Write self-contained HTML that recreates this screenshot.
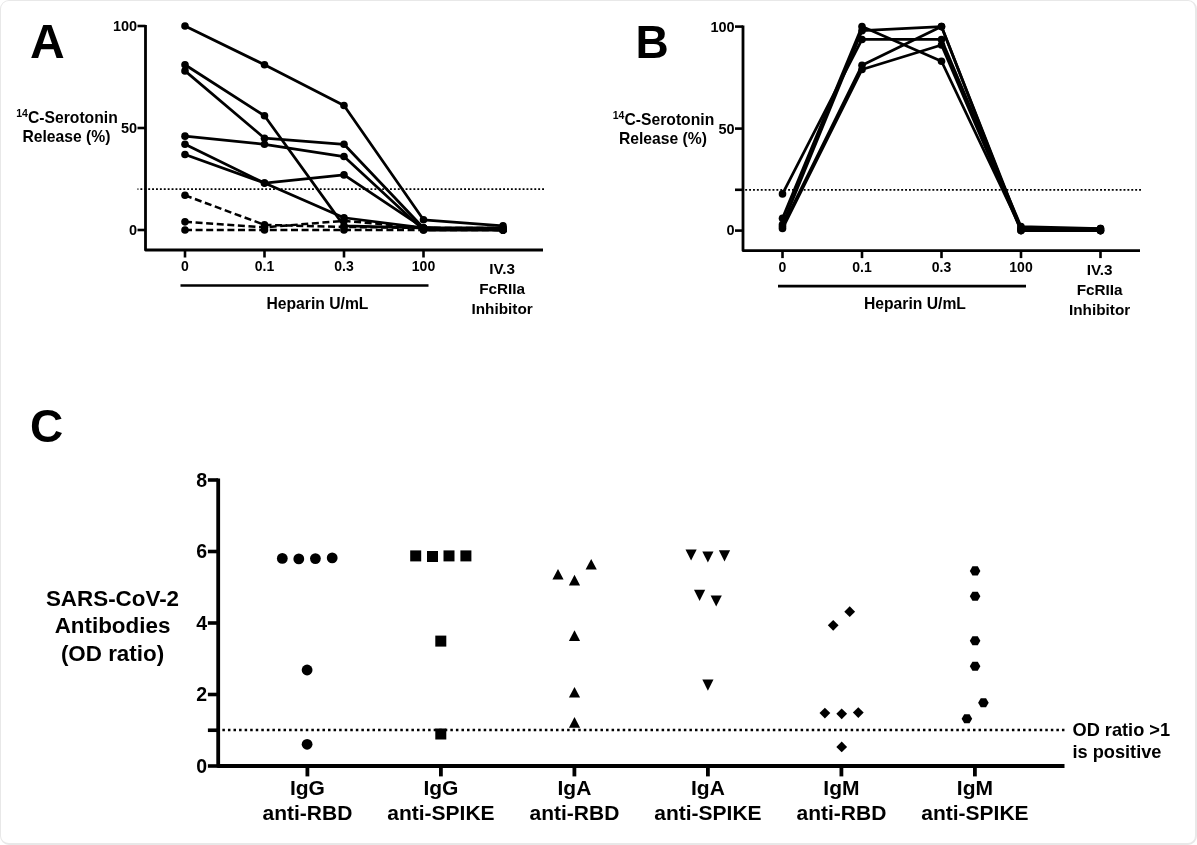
<!DOCTYPE html>
<html lang="en"><head><meta charset="utf-8"><title>Figure</title>
<style>
html,body{margin:0;padding:0;background:#fff;}
body{width:1197px;height:845px;overflow:hidden;position:relative;font-family:"Liberation Sans",sans-serif;}
.frame{position:absolute;left:0;top:0;width:1197px;height:845px;box-sizing:border-box;border:solid #e8e8e8;border-width:1px 2px 2px 1px;border-radius:9px;background:#fff;}
.bg{position:absolute;left:0;top:0;width:1197px;height:845px;background:#fff;}
svg{position:absolute;left:0;top:0;}
text{font-family:"Liberation Sans",sans-serif;font-weight:bold;fill:#000;}
</style></head><body>
<div class="bg"></div>
<div class="frame"></div>
<svg width="1197" height="845" viewBox="0 0 1197 845">

<g id="panelA">
<text x="30" y="57.5" font-size="48">A</text>
<path d="M145.5 24.9 V250 H543" stroke="#000" stroke-width="2.8" fill="none" stroke-linejoin="round"/>
<path d="M137.5 230 H145.5" stroke="#000" stroke-width="2.6"/>
<text x="137.2" y="234.5" font-size="14.5" text-anchor="end">0</text>
<path d="M137.5 128 H145.5" stroke="#000" stroke-width="2.6"/>
<text x="137.2" y="133.2" font-size="14.5" text-anchor="end">50</text>
<path d="M137.5 26 H145.5" stroke="#000" stroke-width="2.6"/>
<text x="137.2" y="31.4" font-size="14.5" text-anchor="end">100</text>
<path d="M544 189.2 H137.5" stroke="#000" stroke-width="1.7" stroke-dasharray="1.9 2"/>
<path d="M185 250 V257.5" stroke="#000" stroke-width="2.6"/>
<text x="185" y="271.2" font-size="14" text-anchor="middle">0</text>
<path d="M264.5 250 V257.5" stroke="#000" stroke-width="2.6"/>
<text x="264.5" y="271.2" font-size="14" text-anchor="middle">0.1</text>
<path d="M344 250 V257.5" stroke="#000" stroke-width="2.6"/>
<text x="344" y="271.2" font-size="14" text-anchor="middle">0.3</text>
<path d="M423.5 250 V257.5" stroke="#000" stroke-width="2.6"/>
<text x="423.5" y="271.2" font-size="14" text-anchor="middle">100</text>
<text x="502.1" y="274.2" font-size="15.3" text-anchor="middle">IV.3</text>
<text x="502.1" y="294.2" font-size="15.3" text-anchor="middle">FcRIIa</text>
<text x="502.1" y="314.2" font-size="15.3" text-anchor="middle">Inhibitor</text>
<path d="M180.5 285.5 H428.5" stroke="#000" stroke-width="2.6"/>
<text x="317.45" y="308.7" font-size="15.7" text-anchor="middle">Heparin U/mL</text>
<text x="67" y="122.6" font-size="15.7" text-anchor="middle"><tspan font-size="10.5" dy="-5.5">14</tspan><tspan dy="5.5">C-Serotonin</tspan></text>
<text x="66.5" y="141.8" font-size="15.7" text-anchor="middle">Release (%)</text>
<polyline points="185,195.32 264.5,224.9 344,226.94 423.5,227.96 503,227.96" fill="none" stroke="#000" stroke-width="2.5" stroke-dasharray="7 3.6"/>
<polyline points="185,221.84 264.5,227.35 344,220.82 423.5,227.96 503,230" fill="none" stroke="#000" stroke-width="2.5" stroke-dasharray="7 3.6"/>
<polyline points="185,230 264.5,230 344,230 423.5,230 503,230" fill="none" stroke="#000" stroke-width="2.5" stroke-dasharray="7 3.6"/>
<polyline points="185,26 264.5,64.76 344,105.56 423.5,219.8 503,225.92" fill="none" stroke="#000" stroke-width="2.75" stroke-linejoin="round"/>
<polyline points="185,64.76 264.5,115.76 344,225.92 423.5,227.96 503,230" fill="none" stroke="#000" stroke-width="2.75" stroke-linejoin="round"/>
<polyline points="185,70.88 264.5,138.2 344,144.32 423.5,227.96 503,230" fill="none" stroke="#000" stroke-width="2.75" stroke-linejoin="round"/>
<polyline points="185,136.16 264.5,144.32 344,156.56 423.5,230 503,230" fill="none" stroke="#000" stroke-width="2.75" stroke-linejoin="round"/>
<polyline points="185,144.32 264.5,183.08 344,217.76 423.5,227.96 503,227.96" fill="none" stroke="#000" stroke-width="2.75" stroke-linejoin="round"/>
<polyline points="185,154.52 264.5,183.08 344,174.92 423.5,227.96 503,230" fill="none" stroke="#000" stroke-width="2.75" stroke-linejoin="round"/>
<circle cx="185" cy="26" r="3.8"/>
<circle cx="264.5" cy="64.76" r="3.8"/>
<circle cx="344" cy="105.56" r="3.8"/>
<circle cx="423.5" cy="219.8" r="3.8"/>
<circle cx="503" cy="225.92" r="3.8"/>
<circle cx="185" cy="64.76" r="3.8"/>
<circle cx="264.5" cy="115.76" r="3.8"/>
<circle cx="344" cy="225.92" r="3.8"/>
<circle cx="423.5" cy="227.96" r="3.8"/>
<circle cx="503" cy="230" r="3.8"/>
<circle cx="185" cy="70.88" r="3.8"/>
<circle cx="264.5" cy="138.2" r="3.8"/>
<circle cx="344" cy="144.32" r="3.8"/>
<circle cx="423.5" cy="227.96" r="3.8"/>
<circle cx="503" cy="230" r="3.8"/>
<circle cx="185" cy="136.16" r="3.8"/>
<circle cx="264.5" cy="144.32" r="3.8"/>
<circle cx="344" cy="156.56" r="3.8"/>
<circle cx="423.5" cy="230" r="3.8"/>
<circle cx="503" cy="230" r="3.8"/>
<circle cx="185" cy="144.32" r="3.8"/>
<circle cx="264.5" cy="183.08" r="3.8"/>
<circle cx="344" cy="217.76" r="3.8"/>
<circle cx="423.5" cy="227.96" r="3.8"/>
<circle cx="503" cy="227.96" r="3.8"/>
<circle cx="185" cy="154.52" r="3.8"/>
<circle cx="264.5" cy="183.08" r="3.8"/>
<circle cx="344" cy="174.92" r="3.8"/>
<circle cx="423.5" cy="227.96" r="3.8"/>
<circle cx="503" cy="230" r="3.8"/>
<circle cx="185" cy="195.32" r="3.8"/>
<circle cx="264.5" cy="224.9" r="3.8"/>
<circle cx="344" cy="226.94" r="3.8"/>
<circle cx="423.5" cy="227.96" r="3.8"/>
<circle cx="503" cy="227.96" r="3.8"/>
<circle cx="185" cy="221.84" r="3.8"/>
<circle cx="264.5" cy="227.35" r="3.8"/>
<circle cx="344" cy="220.82" r="3.8"/>
<circle cx="423.5" cy="227.96" r="3.8"/>
<circle cx="503" cy="230" r="3.8"/>
<circle cx="185" cy="230" r="3.8"/>
<circle cx="264.5" cy="230" r="3.8"/>
<circle cx="344" cy="230" r="3.8"/>
<circle cx="423.5" cy="230" r="3.8"/>
<circle cx="503" cy="230" r="3.8"/>
</g>
<g id="panelB" transform="translate(0,0.6)">
<text x="635.4" y="57.5" font-size="46">B</text>
<path d="M743 24.9 V250 H1140" stroke="#000" stroke-width="2.8" fill="none" stroke-linejoin="round"/>
<path d="M735 230 H743" stroke="#000" stroke-width="2.6"/>
<text x="734.7" y="234.5" font-size="14.5" text-anchor="end">0</text>
<path d="M735 128 H743" stroke="#000" stroke-width="2.6"/>
<text x="734.7" y="133.2" font-size="14.5" text-anchor="end">50</text>
<path d="M735 26 H743" stroke="#000" stroke-width="2.6"/>
<text x="734.7" y="31.4" font-size="14.5" text-anchor="end">100</text>
<path d="M735 189.2 H743" stroke="#000" stroke-width="2.6"/>
<path d="M1141 189.2 H745" stroke="#000" stroke-width="1.7" stroke-dasharray="1.9 2"/>
<path d="M782.5 250 V257.5" stroke="#000" stroke-width="2.6"/>
<text x="782.5" y="271.2" font-size="14" text-anchor="middle">0</text>
<path d="M862 250 V257.5" stroke="#000" stroke-width="2.6"/>
<text x="862" y="271.2" font-size="14" text-anchor="middle">0.1</text>
<path d="M941.5 250 V257.5" stroke="#000" stroke-width="2.6"/>
<text x="941.5" y="271.2" font-size="14" text-anchor="middle">0.3</text>
<path d="M1021 250 V257.5" stroke="#000" stroke-width="2.6"/>
<text x="1021" y="271.2" font-size="14" text-anchor="middle">100</text>
<path d="M1100.5 250 V257.5" stroke="#000" stroke-width="2.6"/>
<text x="1099.6" y="274.2" font-size="15.3" text-anchor="middle">IV.3</text>
<text x="1099.6" y="294.2" font-size="15.3" text-anchor="middle">FcRIIa</text>
<text x="1099.6" y="314.2" font-size="15.3" text-anchor="middle">Inhibitor</text>
<path d="M778 285.5 H1026" stroke="#000" stroke-width="2.6"/>
<text x="914.95" y="308.7" font-size="15.7" text-anchor="middle">Heparin U/mL</text>
<text x="663.5" y="124" font-size="15.7" text-anchor="middle"><tspan font-size="10.5" dy="-5.5">14</tspan><tspan dy="5.5">C-Serotonin</tspan></text>
<text x="663" y="143.2" font-size="15.7" text-anchor="middle">Release (%)</text>
<polyline points="782.5,193.28 862,38.85 941.5,38.85 1021,225.92 1100.5,227.96" fill="none" stroke="#000" stroke-width="2.75" stroke-linejoin="round"/>
<polyline points="782.5,217.76 862,26 941.5,60.68 1021,227.96 1100.5,230" fill="none" stroke="#000" stroke-width="2.75" stroke-linejoin="round"/>
<polyline points="782.5,223.88 862,30.08 941.5,26 1021,230 1100.5,230" fill="none" stroke="#000" stroke-width="2.75" stroke-linejoin="round"/>
<polyline points="782.5,225.92 862,64.76 941.5,26 1021,227.96 1100.5,227.96" fill="none" stroke="#000" stroke-width="2.75" stroke-linejoin="round"/>
<polyline points="782.5,227.96 862,68.84 941.5,44.36 1021,230 1100.5,230" fill="none" stroke="#000" stroke-width="2.75" stroke-linejoin="round"/>
<circle cx="782.5" cy="193.28" r="3.8"/>
<circle cx="862" cy="38.85" r="3.8"/>
<circle cx="941.5" cy="38.85" r="3.8"/>
<circle cx="1021" cy="225.92" r="3.8"/>
<circle cx="1100.5" cy="227.96" r="3.8"/>
<circle cx="782.5" cy="217.76" r="3.8"/>
<circle cx="862" cy="26" r="3.8"/>
<circle cx="941.5" cy="60.68" r="3.8"/>
<circle cx="1021" cy="227.96" r="3.8"/>
<circle cx="1100.5" cy="230" r="3.8"/>
<circle cx="782.5" cy="223.88" r="3.8"/>
<circle cx="862" cy="30.08" r="3.8"/>
<circle cx="941.5" cy="26" r="3.8"/>
<circle cx="1021" cy="230" r="3.8"/>
<circle cx="1100.5" cy="230" r="3.8"/>
<circle cx="782.5" cy="225.92" r="3.8"/>
<circle cx="862" cy="64.76" r="3.8"/>
<circle cx="941.5" cy="26" r="3.8"/>
<circle cx="1021" cy="227.96" r="3.8"/>
<circle cx="1100.5" cy="227.96" r="3.8"/>
<circle cx="782.5" cy="227.96" r="3.8"/>
<circle cx="862" cy="68.84" r="3.8"/>
<circle cx="941.5" cy="44.36" r="3.8"/>
<circle cx="1021" cy="230" r="3.8"/>
<circle cx="1100.5" cy="230" r="3.8"/>
</g>
<g id="panelC">
<text x="30" y="442" font-size="46">C</text>
<path d="M218.2 478.6 V766.0 H1064.5" stroke="#000" stroke-width="3.8" stroke-linejoin="round" fill="none"/>
<path d="M207.9 766 H218.2" stroke="#000" stroke-width="3.6"/>
<text x="207" y="772.7" font-size="19.5" text-anchor="end">0</text>
<path d="M207.9 694.5 H218.2" stroke="#000" stroke-width="3.6"/>
<text x="207" y="701.2" font-size="19.5" text-anchor="end">2</text>
<path d="M207.9 623 H218.2" stroke="#000" stroke-width="3.6"/>
<text x="207" y="629.7" font-size="19.5" text-anchor="end">4</text>
<path d="M207.9 551.5 H218.2" stroke="#000" stroke-width="3.6"/>
<text x="207" y="558.2" font-size="19.5" text-anchor="end">6</text>
<path d="M207.9 480 H218.2" stroke="#000" stroke-width="3.6"/>
<text x="207" y="486.7" font-size="19.5" text-anchor="end">8</text>
<path d="M207.9 730.25 H218.2" stroke="#000" stroke-width="3.6"/>
<path d="M1064.45 729.9 H220.2" stroke="#000" stroke-width="2.5" stroke-dasharray="2.5 3.06"/>
<path d="M307.4 766.0 V776.4" stroke="#000" stroke-width="3.8"/>
<text x="307.4" y="795.3" font-size="21" text-anchor="middle">IgG</text>
<text x="307.4" y="819.6" font-size="21" text-anchor="middle">anti-RBD</text>
<path d="M440.9 766.0 V776.4" stroke="#000" stroke-width="3.8"/>
<text x="440.9" y="795.3" font-size="21" text-anchor="middle">IgG</text>
<text x="440.9" y="819.6" font-size="21" text-anchor="middle">anti-SPIKE</text>
<path d="M574.4 766.0 V776.4" stroke="#000" stroke-width="3.8"/>
<text x="574.4" y="795.3" font-size="21" text-anchor="middle">IgA</text>
<text x="574.4" y="819.6" font-size="21" text-anchor="middle">anti-RBD</text>
<path d="M707.9 766.0 V776.4" stroke="#000" stroke-width="3.8"/>
<text x="707.9" y="795.3" font-size="21" text-anchor="middle">IgA</text>
<text x="707.9" y="819.6" font-size="21" text-anchor="middle">anti-SPIKE</text>
<path d="M841.4 766.0 V776.4" stroke="#000" stroke-width="3.8"/>
<text x="841.4" y="795.3" font-size="21" text-anchor="middle">IgM</text>
<text x="841.4" y="819.6" font-size="21" text-anchor="middle">anti-RBD</text>
<path d="M974.9 766.0 V776.4" stroke="#000" stroke-width="3.8"/>
<text x="974.9" y="795.3" font-size="21" text-anchor="middle">IgM</text>
<text x="974.9" y="819.6" font-size="21" text-anchor="middle">anti-SPIKE</text>
<text x="112.5" y="605.5" font-size="22.4" text-anchor="middle">SARS-CoV-2</text>
<text x="112.5" y="633.2" font-size="22.4" text-anchor="middle">Antibodies</text>
<text x="112.5" y="660.9" font-size="22.4" text-anchor="middle">(OD ratio)</text>
<text x="1072.5" y="735.5" font-size="18.2">OD ratio &gt;1</text>
<text x="1072.5" y="758" font-size="18.2">is positive</text>
<circle cx="282.3" cy="558.4" r="5.4"/>
<circle cx="298.8" cy="558.9" r="5.4"/>
<circle cx="315.4" cy="558.6" r="5.4"/>
<circle cx="332.2" cy="557.9" r="5.4"/>
<circle cx="307.1" cy="670" r="5.4"/>
<circle cx="307.1" cy="744.3" r="5.4"/>
<rect x="410.2" y="550.4" width="11" height="11"/>
<rect x="427" y="551" width="11" height="11"/>
<rect x="443.5" y="550.4" width="11" height="11"/>
<rect x="460.4" y="550.4" width="11" height="11"/>
<rect x="435.3" y="635.6" width="11" height="11"/>
<rect x="435.3" y="728.5" width="11" height="11"/>
<path d="M552.4 579.5 L558 568.9 L563.6 579.5 Z"/>
<path d="M568.9 585.4 L574.5 574.8 L580.1 585.4 Z"/>
<path d="M585.6 569.6 L591.2 559 L596.8 569.6 Z"/>
<path d="M568.9 640.9 L574.5 630.3 L580.1 640.9 Z"/>
<path d="M568.9 697.5 L574.5 686.9 L580.1 697.5 Z"/>
<path d="M568.9 727.7 L574.5 717.1 L580.1 727.7 Z"/>
<path d="M685.5 549.5 L691.1 560.6 L696.7 549.5 Z"/>
<path d="M702.3 551.5 L707.9 562.6 L713.5 551.5 Z"/>
<path d="M718.9 550.3 L724.5 561.4 L730.1 550.3 Z"/>
<path d="M694 589.8 L699.6 600.9 L705.2 589.8 Z"/>
<path d="M710.6 595.4 L716.2 606.5 L721.8 595.4 Z"/>
<path d="M702.3 679.6 L707.9 690.7 L713.5 679.6 Z"/>
<path d="M827.8 625.3 L833.2 619.9 L838.6 625.3 L833.2 630.7 Z"/>
<path d="M844.3 611.7 L849.7 606.3 L855.1 611.7 L849.7 617.1 Z"/>
<path d="M819.5 713.1 L824.9 707.7 L830.3 713.1 L824.9 718.5 Z"/>
<path d="M836.3 713.8 L841.7 708.4 L847.1 713.8 L841.7 719.2 Z"/>
<path d="M852.9 712.6 L858.3 707.2 L863.7 712.6 L858.3 718 Z"/>
<path d="M836.3 746.9 L841.7 741.5 L847.1 746.9 L841.7 752.3 Z"/>
<path d="M969.8 570.9 L972.45 566.35 L977.75 566.35 L980.4 570.9 L977.75 575.45 L972.45 575.45 Z"/>
<path d="M969.8 596.2 L972.45 591.65 L977.75 591.65 L980.4 596.2 L977.75 600.75 L972.45 600.75 Z"/>
<path d="M969.8 640.8 L972.45 636.25 L977.75 636.25 L980.4 640.8 L977.75 645.35 L972.45 645.35 Z"/>
<path d="M969.8 666.2 L972.45 661.65 L977.75 661.65 L980.4 666.2 L977.75 670.75 L972.45 670.75 Z"/>
<path d="M978.1 702.8 L980.75 698.25 L986.05 698.25 L988.7 702.8 L986.05 707.35 L980.75 707.35 Z"/>
<path d="M961.6 718.8 L964.25 714.25 L969.55 714.25 L972.2 718.8 L969.55 723.35 L964.25 723.35 Z"/>
</g>
</svg></body></html>
